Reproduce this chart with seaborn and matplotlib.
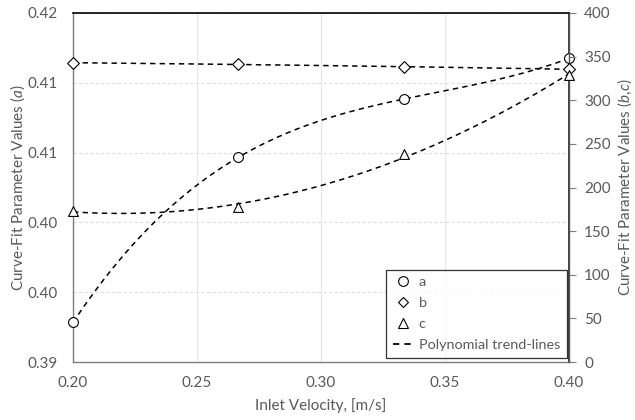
import numpy as np
import pandas as pd
import matplotlib
matplotlib.use("Agg")
import matplotlib.pyplot as plt
import seaborn as sns
from matplotlib.lines import Line2D

# Inlet velocities and fitted parameter values
velocity = [0.2, 0.2667, 0.3333, 0.4]
param_a = [0.3934, 0.4076, 0.4126, 0.4161]
param_b = [343.0, 341.0, 338.5, 335.5]
param_c = [173.4, 177.3, 238.0, 329.0]

left_ticks = [0.39, 0.396, 0.402, 0.408, 0.414, 0.42]
right_ticks = [0, 50, 100, 150, 200, 250, 300, 350, 400]
x_ticks = [0.20, 0.25, 0.30, 0.35, 0.40]

sns.set_theme(style="white")
plt.rcParams["font.family"] = ["Lato", "DejaVu Sans"]
plt.rcParams["mathtext.fontset"] = "custom"
plt.rcParams["mathtext.it"] = "Lato:italic"
plt.rcParams["mathtext.rm"] = "Lato"

text_col = "#595959"
fig = plt.figure(figsize=(6.35, 4.2), dpi=100)
ax = fig.add_axes([73 / 635, 1 - 362 / 420, 496 / 635, 349 / 420])
ax2 = ax.twinx()

df = pd.DataFrame({"v": velocity, "a": param_a, "b": param_b, "c": param_c})
xs = np.linspace(0.2, 0.4, 200)
dash = (0, (3.5, 2.8))


def trend(axis, col, order):
    # polynomial trend-line through the series
    coef = np.polyfit(df["v"], df[col], order)
    axis.plot(xs, np.polyval(coef, xs), ls=dash, color="black", lw=1.1, zorder=2)


mk = dict(s=50, facecolor="white", edgecolor="black", linewidth=0.8, zorder=3, clip_on=False)
trend(ax, "a", 3)
sns.scatterplot(data=df, x="v", y="a", marker="o", ax=ax, **mk)
trend(ax2, "b", 2)
trend(ax2, "c", 2)
sns.scatterplot(data=df, x="v", y="b", marker="D", ax=ax2, **{**mk, "s": 36})
sns.scatterplot(data=df, x="v", y="c", marker="^", ax=ax2, **mk)

ax.set_xlim(0.2, 0.4)
ax.set_ylim(0.39, 0.42)
ax2.set_ylim(0, 400)
ax.set_xticks(x_ticks)
ax.set_xticklabels([f"{t:.2f}" for t in x_ticks])
ax.set_yticks(left_ticks)
ax.set_yticklabels([f"{t:.2f}" for t in left_ticks])
ax2.set_yticks(right_ticks)

ax.grid(axis="y", color="#dedede", ls=(0, (3, 2)), lw=0.8)
ax.grid(axis="x", color="#e6e6e6", ls="-", lw=0.8)
ax.set_axisbelow(True)

for spine in ["left", "bottom"]:
    ax.spines[spine].set_color("#7f7f7f")
    ax.spines[spine].set_linewidth(1.0)
ax.spines["top"].set_color("black")
ax.spines["top"].set_linewidth(1.2)
ax2.spines["right"].set_color("#555555")
ax2.spines["right"].set_linewidth(1.0)
for s in ["left", "top", "bottom"]:
    ax2.spines[s].set_visible(False)

ax.tick_params(axis="both", colors=text_col, labelsize=11, length=0)
ax.tick_params(axis="y", pad=11)
ax.tick_params(axis="x", pad=10)
ax2.tick_params(axis="y", colors=text_col, labelsize=11, length=5, width=0.8, direction="out",
                pad=6)
ax2.tick_params(axis="y", color="#7f7f7f")

ax.set_xlabel("Inlet Velocity, [m/s]", color=text_col, fontsize=11, labelpad=6)
ax.set_ylabel("Curve-Fit Parameter Values ($a$)", color=text_col, fontsize=11, labelpad=0)
ax2.set_ylabel("Curve-Fit Parameter Values ($b$,$c$)", color=text_col, fontsize=11, labelpad=3)

handles = [
    Line2D([], [], ls="none", marker="o", mfc="white", mec="black", ms=7, mew=0.8),
    Line2D([], [], ls="none", marker="D", mfc="white", mec="black", ms=5.5, mew=0.8),
    Line2D([], [], ls="none", marker="^", mfc="white", mec="black", ms=7, mew=0.8),
    Line2D([], [], ls=(0, (3.5, 2.8)), color="black", lw=1.3),
]
labels = ["a", "b", "c", "Polynomial trend-lines"]
leg = ax2.legend(handles, labels, loc="lower right", bbox_to_anchor=(0.995, 0.012),
                 frameon=True, fancybox=False, edgecolor="black", fontsize=10.4,
                 handlelength=1.4, labelspacing=0.62, borderpad=0.45, handletextpad=0.4,
                 borderaxespad=0.0)
leg.get_frame().set_linewidth(0.9)
for t in leg.get_texts():
    t.set_color(text_col)

fig.savefig("out.png", dpi=100)
